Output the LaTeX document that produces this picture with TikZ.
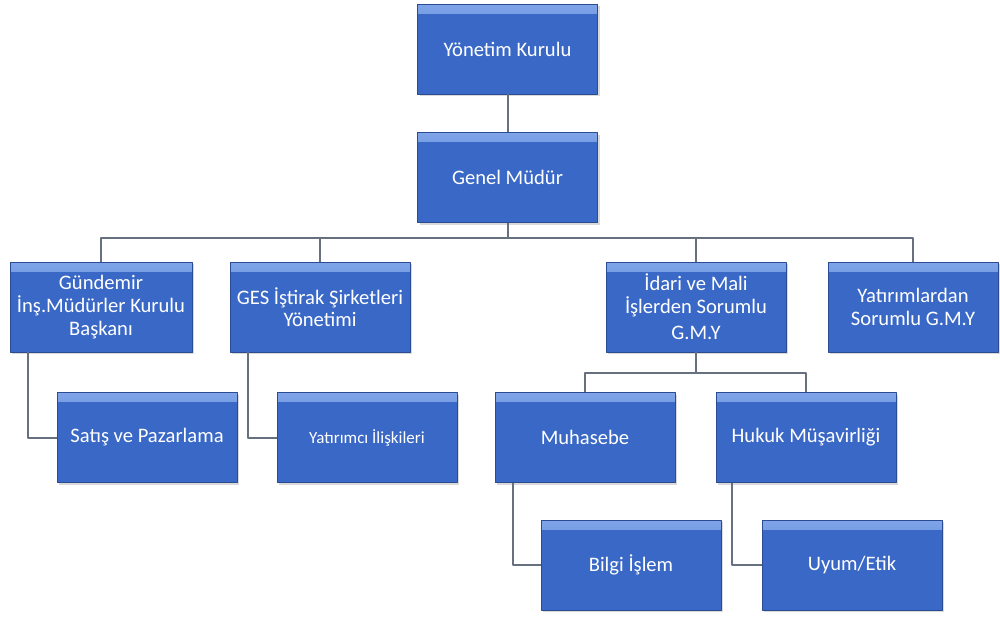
\documentclass[tikz,border=0pt]{standalone}
\usepackage{fontspec}
\setmainfont{Carlito}
\usetikzlibrary{shadows}
\definecolor{boxblue}{HTML}{3A68C6}
\definecolor{boxlight}{HTML}{7FA4E8}
\definecolor{boxedge}{HTML}{2B4C92}
\definecolor{linegrey}{HTML}{66707E}
\tikzset{
  orgbox/.style={draw=boxedge, line width=0.4pt, fill=boxblue,
    path picture={\fill[top color=boxlight, bottom color=boxblue]
      ([yshift=-0.6pt]path picture bounding box.north west) rectangle ([yshift=-4.5pt]path picture bounding box.north east);},
    minimum width=90pt, minimum height=45pt, inner sep=1pt,
    text=white, align=center, font=\fontsize{10.3}{11.3}\selectfont,
    drop shadow={shadow xshift=1pt, shadow yshift=-1pt, opacity=0.3}},
  orgline/.style={draw=linegrey, line width=1pt},
}
\begin{document}
\begin{tikzpicture}[x=0.5pt,y=-0.5pt,line join=bevel]
\useasboundingbox (0,0) rectangle (1000,616);
%%
  % Node: yonetim
  \node[orgbox] (yonetim) at (507.5,49) {Yönetim Kurulu};
  % Node: genel
  \node[orgbox] (genel) at (507.5,177.5) {Genel Müdür};
  % Node: gundemir
  \node[orgbox, minimum width=91pt] (gundemir) at (101,307) {Gündemir\\İnş.Müdürler Kurulu\\Başkanı};
  % Node: ges
  \node[orgbox] (ges) at (320,307) {GES İştirak Şirketleri\\Yönetimi};
  % Node: idari
  \node[orgbox] (idari) at (696,307) {İdari ve Mali\\İşlerden Sorumlu\\[2pt]G.M.Y};
  % Node: yatirim
  \node[orgbox, minimum width=85pt] (yatirim) at (913,307) {Yatırımlardan\\Sorumlu G.M.Y};
  % Node: satis
  \node[orgbox] (satis) at (147,437.5) {Satış ve Pazarlama};
  % Node: yatirimci
  \node[orgbox, font=\fontsize{8.5}{10}\selectfont] (yatirimci) at (367,437.5) {Yatırımcı İlişkileri};
  % Node: muhasebe
  \node[orgbox] (muhasebe) at (585,437.5) {Muhasebe};
  % Node: hukuk
  \node[orgbox] (hukuk) at (806,437.5) {Hukuk Müşavirliği};
  % Node: bilgi
  \node[orgbox] (bilgi) at (631,565) {Bilgi İşlem};
  % Node: uyum
  \node[orgbox] (uyum) at (852,565) {Uyum/Etik};
%
  % Edge: yonetim -> genel
  \draw[orgline] (yonetim.south) -- (genel.north);
  % Edge: genel -> gundemir, ges, idari, yatirim
  \draw[orgline] (genel.south) -- ++(0,15) -| (gundemir.north);
  \draw[orgline] (genel.south) -- ++(0,15) -| (ges.north);
  \draw[orgline] (genel.south) -- ++(0,15) -| (idari.north);
  \draw[orgline] (genel.south) -- ++(0,15) -| (yatirim.north);
  % Edge: gundemir -> satis
  \draw[orgline] ([xshift=9pt]gundemir.south west) |- (satis.west);
  % Edge: ges -> yatirimci
  \draw[orgline] ([xshift=9pt]ges.south west) |- (yatirimci.west);
  % Edge: idari -> muhasebe, hukuk
  \draw[orgline] (idari.south) -- ++(0,21) -| (muhasebe.north);
  \draw[orgline] (idari.south) -- ++(0,21) -| (hukuk.north);
  % Edge: muhasebe -> bilgi
  \draw[orgline] ([xshift=9pt]muhasebe.south west) |- (bilgi.west);
  % Edge: hukuk -> uyum
  \draw[orgline] ([xshift=8pt]hukuk.south west) |- (uyum.west);
%
\end{tikzpicture}
\end{document}
